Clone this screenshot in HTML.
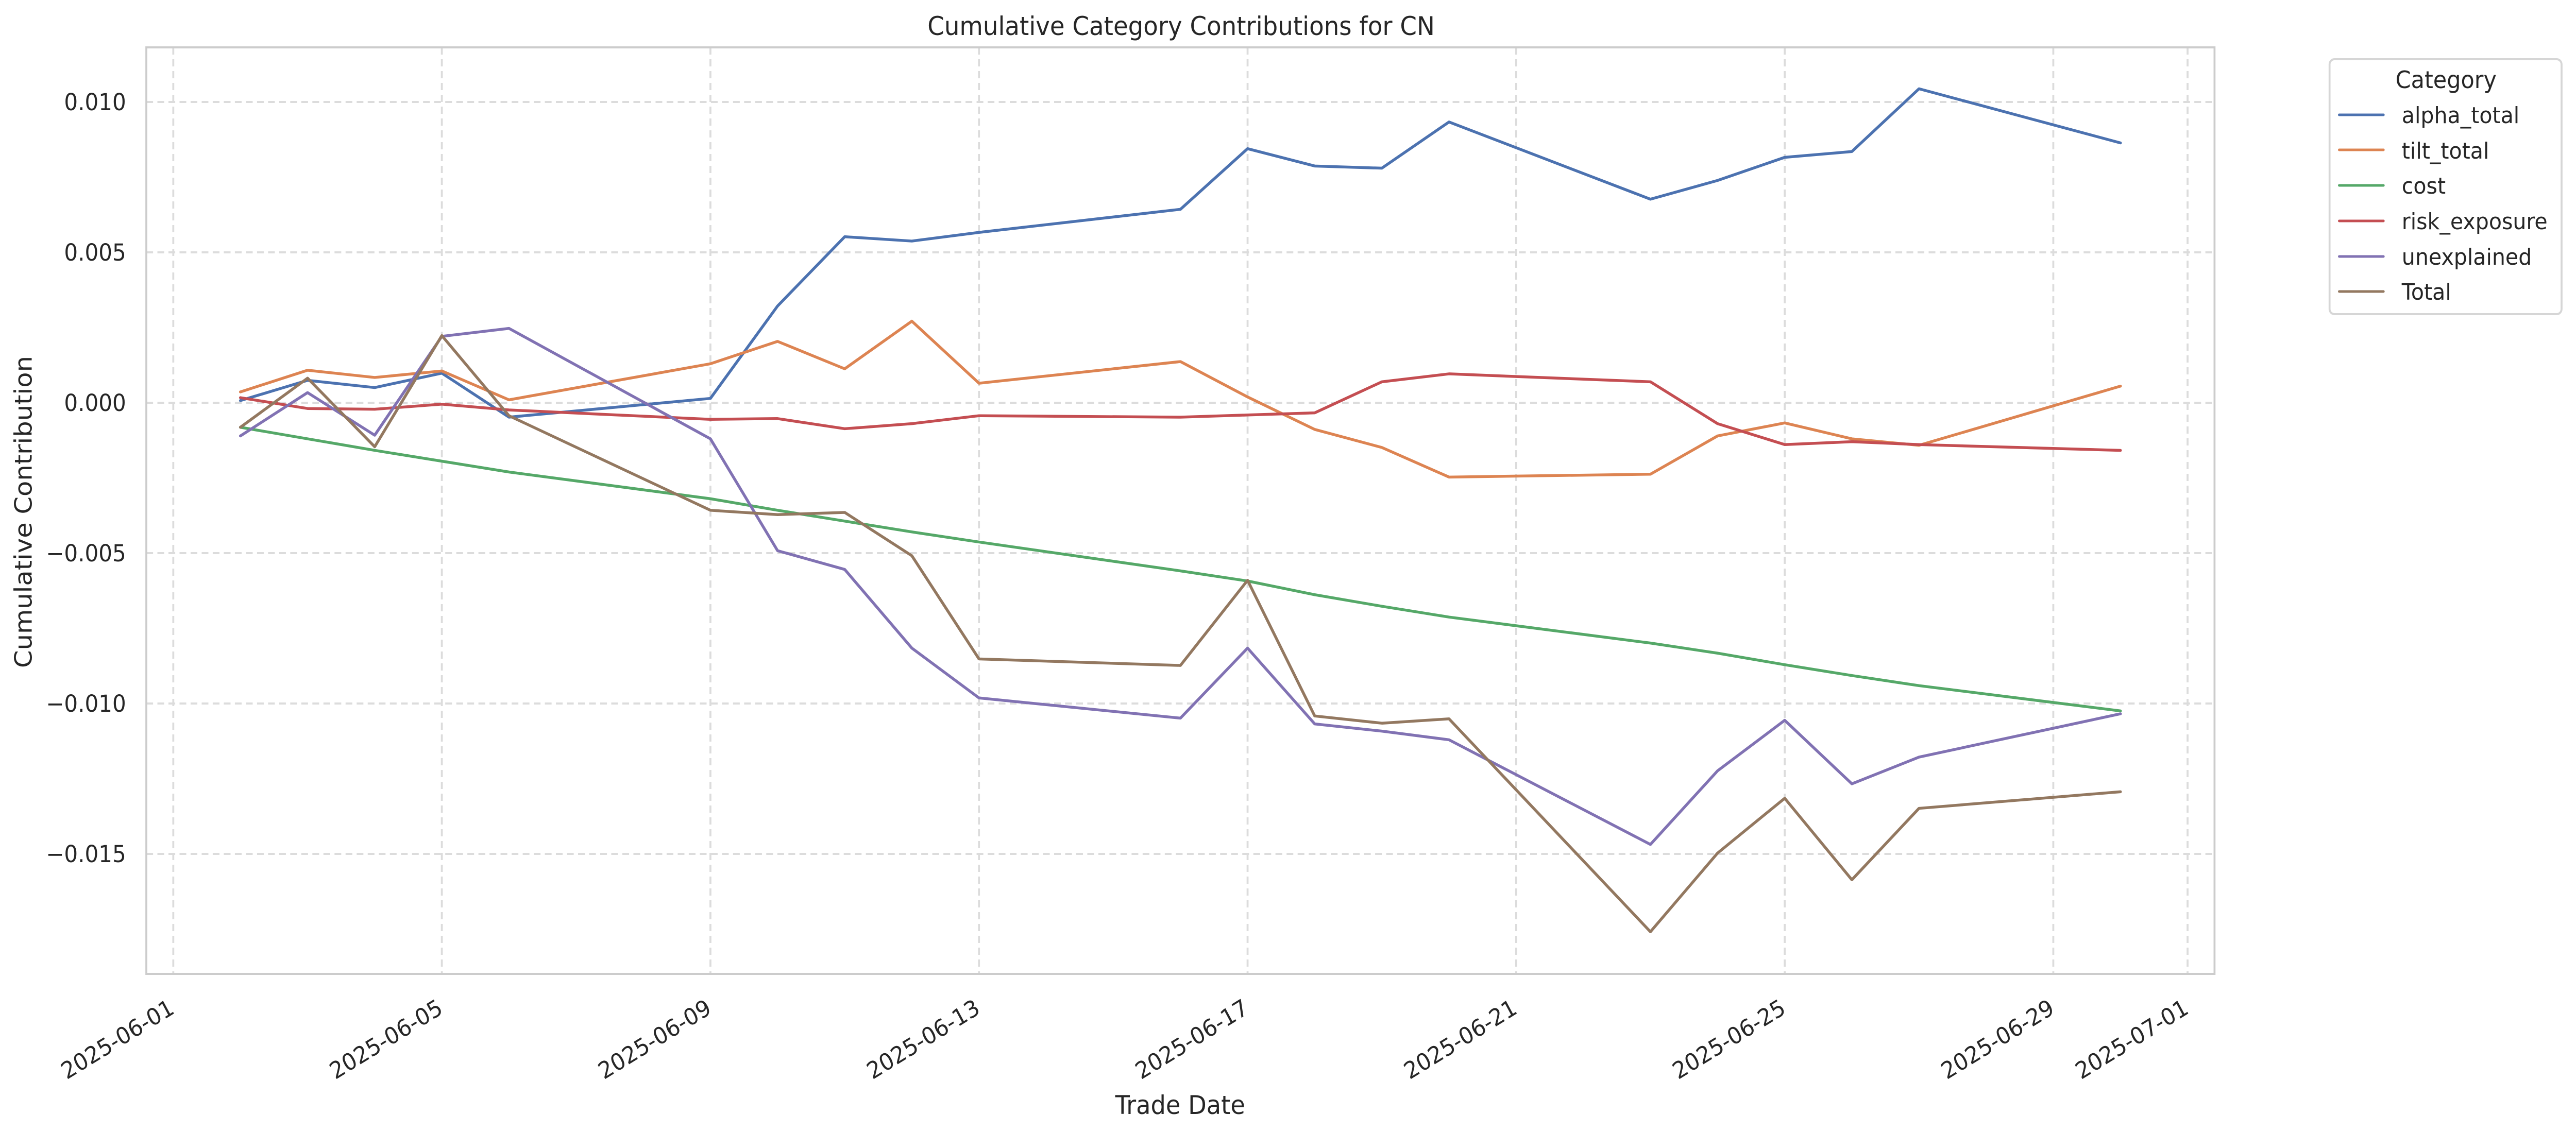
<!DOCTYPE html>
<html><head><meta charset="utf-8"><style>
html,body{margin:0;padding:0;background:#fff;width:100%;height:100%;overflow:hidden;}
svg{display:block;position:absolute;left:0;top:0;width:100vw;height:100vh;}
text{font-family:"DejaVu Sans","Liberation Sans",sans-serif;fill:#262626;}
</style></head><body>
<svg viewBox="0 0 5352 2198" preserveAspectRatio="none" xmlns="http://www.w3.org/2000/svg">
<rect width="5352" height="2198" fill="#fff"/>
<!-- grid -->
<g stroke="#dcdcdc" stroke-width="4" stroke-dasharray="14,9" fill="none">
<line x1="304" y1="198" x2="4601" y2="198"/>
<line x1="304" y1="490" x2="4601" y2="490"/>
<line x1="304" y1="782" x2="4601" y2="782"/>
<line x1="304" y1="1074" x2="4601" y2="1074"/>
<line x1="304" y1="1366" x2="4601" y2="1366"/>
<line x1="304" y1="1658" x2="4601" y2="1658"/>
<line x1="360" y1="92" x2="360" y2="1891"/>
<line x1="918" y1="92" x2="918" y2="1891"/>
<line x1="1476" y1="92" x2="1476" y2="1891"/>
<line x1="2034" y1="92" x2="2034" y2="1891"/>
<line x1="2592" y1="92" x2="2592" y2="1891"/>
<line x1="3150" y1="92" x2="3150" y2="1891"/>
<line x1="3708" y1="92" x2="3708" y2="1891"/>
<line x1="4266" y1="92" x2="4266" y2="1891"/>
<line x1="4545" y1="92" x2="4545" y2="1891"/>
</g>
<!-- series -->
<g transform="translate(220.5,0) scale(139.5,1.4014)" fill="none" stroke-width="5.5" stroke-linejoin="round" stroke-linecap="round">
<polyline vector-effect="non-scaling-stroke" stroke="#4c72b0" points="2,555 3,527 4,537 5,517 6,578 9,552 10,424 11,328 12,334 13,322 16,290 17,206 18,230 19,233 20,169 23,276 24,250 25,218 26,210 27,123 30,198"/>
<polyline vector-effect="non-scaling-stroke" stroke="#dd8452" points="2,543 3,513 4,523 5,514 6,554 9,504 10,473 11,511 12,445 13,531 16,501 17,550 18,595 19,620 20,661 23,657 24,604 25,586 26,608 27,617 30,535"/>
<polyline vector-effect="non-scaling-stroke" stroke="#55a868" points="2,592 3,608 4,624 5,639 6,654 9,691 10,707 11,722 12,737 13,751 16,791 17,805 18,824 19,840 20,855 23,891 24,905 25,921 26,936 27,950 30,985"/>
<polyline vector-effect="non-scaling-stroke" stroke="#c44e52" points="2,551 3,566 4,567 5,560 6,568 9,581 10,580 11,594 12,587 13,576 16,578 17,575 18,572 19,529 20,518 23,529 24,587 25,616 26,612 27,616 30,624"/>
<polyline vector-effect="non-scaling-stroke" stroke="#8172b3" points="2,604 3,544 4,603 5,466 6,455 9,608 10,763 11,789 12,898 13,967 16,995 17,898 18,1003 19,1013 20,1025 23,1170 24,1068 25,998 26,1086 27,1049 30,989"/>
<polyline vector-effect="non-scaling-stroke" stroke="#937860" points="2,592 3,524 4,619 5,465 6,576 9,707 10,713 11,710 12,770 13,913 16,922 17,804 18,992 19,1002 20,996 23,1291 24,1182 25,1106 26,1219 27,1120 30,1097"/>
</g>
<!-- spines -->
<rect x="304" y="92" width="4297" height="1799" fill="none" stroke="#cccccc" stroke-width="4"/>
<!-- y tick labels -->
<g font-size="45" text-anchor="end">
<text x="262" y="214">0.010</text>
<text x="262" y="506">0.005</text>
<text x="262" y="798">0.000</text>
<text x="262" y="1090">−0.005</text>
<text x="262" y="1382">−0.010</text>
<text x="262" y="1674">−0.015</text>
</g>
<!-- x tick labels -->
<g font-size="45" text-anchor="end">
<text transform="translate(365,1966) rotate(-30)">2025-06-01</text>
<text transform="translate(923,1966) rotate(-30)">2025-06-05</text>
<text transform="translate(1481,1966) rotate(-30)">2025-06-09</text>
<text transform="translate(2039,1966) rotate(-30)">2025-06-13</text>
<text transform="translate(2597,1966) rotate(-30)">2025-06-17</text>
<text transform="translate(3155,1966) rotate(-30)">2025-06-21</text>
<text transform="translate(3713,1966) rotate(-30)">2025-06-25</text>
<text transform="translate(4271,1966) rotate(-30)">2025-06-29</text>
<text transform="translate(4550,1966) rotate(-30)">2025-07-01</text>
</g>
<!-- titles -->
<text x="2454" y="68" font-size="50" text-anchor="middle" textLength="1054" lengthAdjust="spacingAndGlyphs">Cumulative Category Contributions for CN</text>
<text x="2452" y="2163" font-size="50" text-anchor="middle" textLength="270" lengthAdjust="spacingAndGlyphs">Trade Date</text>
<text transform="translate(66,994) rotate(-90)" font-size="50" text-anchor="middle" textLength="606" lengthAdjust="spacingAndGlyphs">Cumulative Contribution</text>
<!-- legend -->
<rect x="4840" y="115" width="482" height="495" rx="10" fill="#fff" stroke="#d6d6d6" stroke-width="4"/>
<text x="5082" y="171" font-size="46" text-anchor="middle">Category</text>
<g stroke-width="5" stroke-linecap="round">
<line x1="4860" y1="223" x2="4952" y2="223" stroke="#4c72b0"/>
<line x1="4860" y1="291" x2="4952" y2="291" stroke="#dd8452"/>
<line x1="4860" y1="360" x2="4952" y2="360" stroke="#55a868"/>
<line x1="4860" y1="429" x2="4952" y2="429" stroke="#c44e52"/>
<line x1="4860" y1="498" x2="4952" y2="498" stroke="#8172b3"/>
<line x1="4860" y1="566" x2="4952" y2="566" stroke="#937860"/>
</g>
<g font-size="44">
<text x="4990" y="239">alpha_total</text>
<text x="4990" y="308">tilt_total</text>
<text x="4990" y="376">cost</text>
<text x="4990" y="445">risk_exposure</text>
<text x="4990" y="514">unexplained</text>
<text x="4990" y="582">Total</text>
</g>
</svg>
</body></html>
